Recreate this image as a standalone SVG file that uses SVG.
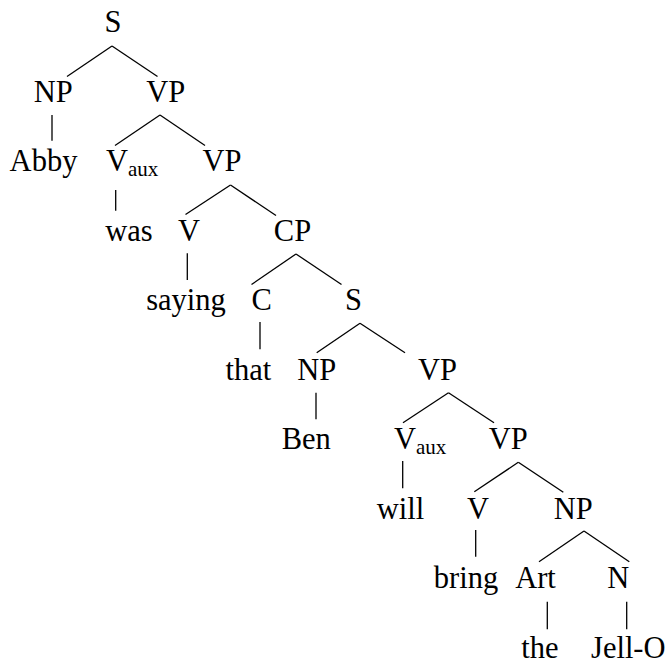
<svg xmlns="http://www.w3.org/2000/svg" width="670" height="665" viewBox="0 0 670 665">
  <style>
    text { font-family: "Liberation Serif", "Times New Roman", serif; font-size: 30.5px; fill: #000; }
    .c { text-anchor: middle; }
    .sub { font-size: 21px; }
    #edges line { stroke: #000; stroke-width: 1.3; stroke-linecap: butt; }
  </style>
  <rect width="670" height="665" fill="#fff"/>

  <!-- tree edges -->
  <g id="edges">
    <line x1="112" y1="46" x2="67" y2="76.5"/>
    <line x1="112" y1="46" x2="157.5" y2="76.5"/>
    <line x1="52" y1="115" x2="52" y2="140.7"/>
    <line x1="160" y1="115" x2="115" y2="145.5"/>
    <line x1="160" y1="115" x2="205" y2="145.5"/>
    <line x1="115.7" y1="190" x2="115.7" y2="210.7"/>
    <line x1="230.5" y1="185" x2="185.5" y2="214.5"/>
    <line x1="230.5" y1="185" x2="276" y2="215.5"/>
    <line x1="187.3" y1="253.3" x2="187.3" y2="280"/>
    <line x1="296" y1="254" x2="251.5" y2="284.5"/>
    <line x1="296" y1="254" x2="341.5" y2="284.5"/>
    <line x1="260" y1="322" x2="260" y2="349.3"/>
    <line x1="360" y1="323.3" x2="316.7" y2="352.7"/>
    <line x1="360" y1="323.3" x2="405" y2="352.7"/>
    <line x1="316" y1="392.7" x2="316" y2="419.3"/>
    <line x1="448.5" y1="392.7" x2="403" y2="422.7"/>
    <line x1="448.5" y1="392.7" x2="494" y2="422.7"/>
    <line x1="402.7" y1="461" x2="402.7" y2="488.3"/>
    <line x1="518.3" y1="462.3" x2="474.3" y2="491.7"/>
    <line x1="518.3" y1="462.3" x2="563.3" y2="492.3"/>
    <line x1="475.7" y1="530" x2="475.7" y2="556.7"/>
    <line x1="584" y1="531" x2="539" y2="561.7"/>
    <line x1="584" y1="531" x2="629.3" y2="561.7"/>
    <line x1="547.3" y1="601.7" x2="547.3" y2="629.3"/>
    <line x1="626.7" y1="601.7" x2="626.7" y2="629.3"/>
  </g>

  <!-- row 0 -->
  <g id="s-root"><text class="c" x="113" y="32">S</text></g>
  <!-- row 1 -->
  <g id="np-abby"><text class="c" x="53.3" y="101.5">NP</text></g>
  <g id="vp-1"><text class="c" x="165.8" y="101.5">VP</text></g>
  <!-- row 2 -->
  <g id="w-abby"><text class="c" x="43.5" y="171">Abby</text></g>
  <g id="vaux-1"><text x="106" y="171">V<tspan class="sub" dy="4.5">aux</tspan></text></g>
  <g id="vp-2"><text class="c" x="222" y="171">VP</text></g>
  <!-- row 3 -->
  <g id="w-was"><text class="c" x="129" y="240.5">was</text></g>
  <g id="v-1"><text class="c" x="189" y="240.5">V</text></g>
  <g id="cp"><text class="c" x="292.5" y="240.5">CP</text></g>
  <!-- row 4 -->
  <g id="w-saying"><text class="c" x="186" y="310">saying</text></g>
  <g id="c"><text class="c" x="261.7" y="310">C</text></g>
  <g id="s-embedded"><text class="c" x="353.5" y="310">S</text></g>
  <!-- row 5 -->
  <g id="w-that"><text class="c" x="248.3" y="379.5">that</text></g>
  <g id="np-ben"><text class="c" x="316.7" y="379.5">NP</text></g>
  <g id="vp-3"><text class="c" x="437.5" y="379.5">VP</text></g>
  <!-- row 6 -->
  <g id="w-ben"><text class="c" x="306.2" y="449">Ben</text></g>
  <g id="vaux-2"><text x="394" y="449">V<tspan class="sub" dy="4.5">aux</tspan></text></g>
  <g id="vp-4"><text class="c" x="508.3" y="449">VP</text></g>
  <!-- row 7 -->
  <g id="w-will"><text class="c" x="400.5" y="518.5">will</text></g>
  <g id="v-2"><text class="c" x="478" y="518.5">V</text></g>
  <g id="np-obj"><text class="c" x="573.3" y="518.5">NP</text></g>
  <!-- row 8 -->
  <g id="w-bring"><text class="c" x="466" y="588">bring</text></g>
  <g id="art"><text class="c" x="535.5" y="588">Art</text></g>
  <g id="n"><text class="c" x="618.3" y="588">N</text></g>
  <!-- row 9 -->
  <g id="w-the"><text class="c" x="540" y="657.5">the</text></g>
  <g id="w-jello"><text class="c" x="628.3" y="657.5">Jell-O</text></g>
</svg>
